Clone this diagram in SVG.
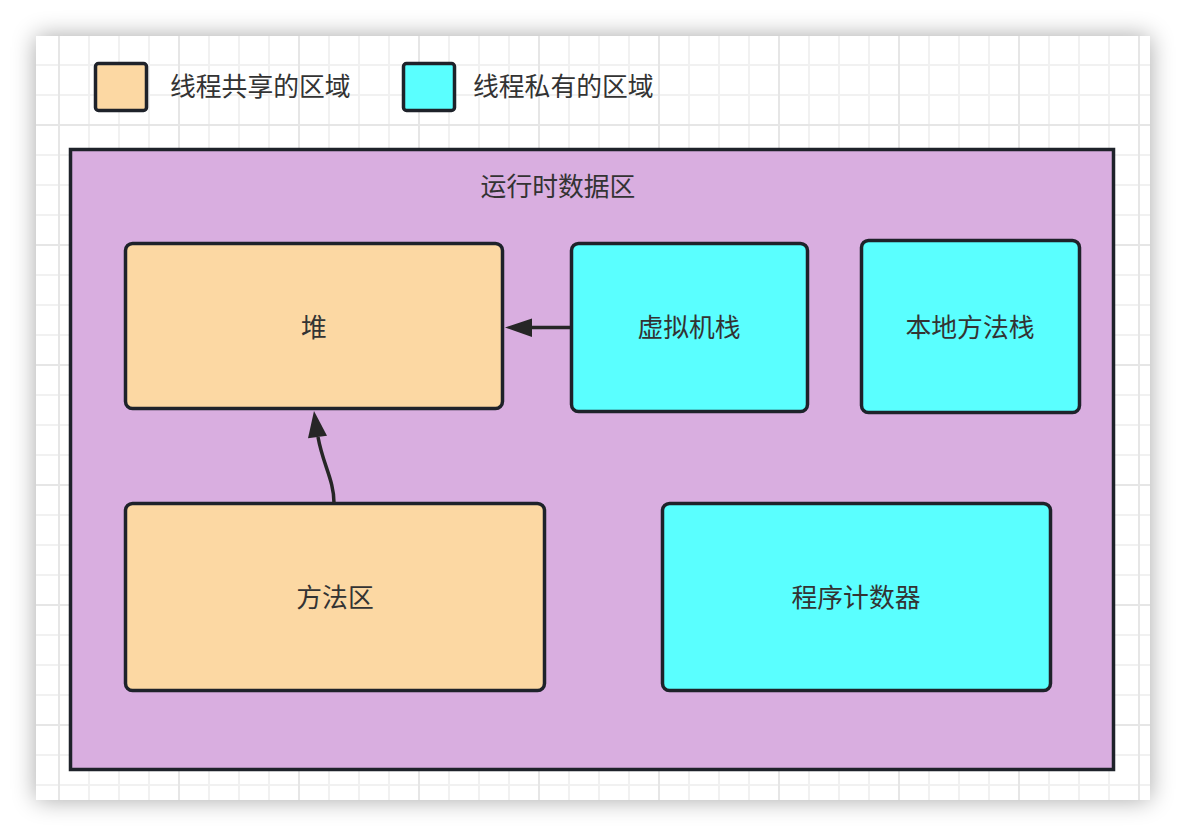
<svg xmlns="http://www.w3.org/2000/svg" width="1186" height="836" viewBox="0 0 1186 836">
  <style>
    .lbl { font-family: "Noto Sans CJK SC", "Noto Sans", sans-serif; font-size: 25.8px; fill: #333333; }
    .node { stroke: #1e222a; stroke-width: 3.5; }
    .shared { fill: #fcd8a3; }
    .private { fill: #5affff; }
    .conn { fill: none; stroke: #262626; stroke-width: 3.5; }
    .head { fill: #262626; }
  </style>
  <defs>
    <filter id="shadow" x="-10%" y="-10%" width="120%" height="120%">
      <feGaussianBlur in="SourceAlpha" stdDeviation="12"/>
      <feComponentTransfer><feFuncA type="linear" slope="0.35"/></feComponentTransfer>
      <feMerge><feMergeNode/><feMergeNode in="SourceGraphic"/></feMerge>
    </filter>
    <pattern id="grid" patternUnits="userSpaceOnUse" x="58" y="4" width="120" height="120">
      <rect x="30" y="0" width="2" height="120" fill="#f1f1f1"/>
      <rect x="60" y="0" width="2" height="120" fill="#f1f1f1"/>
      <rect x="90" y="0" width="2" height="120" fill="#f1f1f1"/>
      <rect x="0" y="30" width="120" height="2" fill="#f1f1f1"/>
      <rect x="0" y="60" width="120" height="2" fill="#f1f1f1"/>
      <rect x="0" y="90" width="120" height="2" fill="#f1f1f1"/>
      <rect x="0" y="0" width="2" height="120" fill="#e6e6e6"/>
      <rect x="0" y="0" width="120" height="2" fill="#e6e6e6"/>
    </pattern>
  </defs>

  <rect x="0" y="0" width="1186" height="836" fill="#ffffff"/>
  <rect x="36" y="36" width="1114" height="764" fill="#ffffff" filter="url(#shadow)"/>
  <rect x="36" y="36" width="1114" height="764" fill="url(#grid)"/>

  <g id="legend-shared">
    <rect class="node shared" x="95.5" y="63.5" width="51" height="47" rx="3"/>
    <text class="lbl" x="170" y="96">线程共享的区域</text>
  </g>
  <g id="legend-private">
    <rect class="node private" x="403.5" y="63.5" width="51" height="47" rx="3"/>
    <text class="lbl" x="473" y="96">线程私有的区域</text>
  </g>

  <g id="runtime-data-area">
    <rect class="node" x="70.5" y="149.5" width="1043" height="620" fill="#d9aee0"/>
    <text class="lbl" x="558" y="196" text-anchor="middle">运行时数据区</text>
  </g>

  <g id="heap">
    <rect class="node shared" x="125.5" y="243.5" width="377" height="165" rx="7"/>
    <text class="lbl" x="314" y="337" text-anchor="middle">堆</text>
  </g>
  <g id="vm-stack">
    <rect class="node private" x="571.5" y="243.5" width="236" height="168" rx="7"/>
    <text class="lbl" x="689" y="337" text-anchor="middle">虚拟机栈</text>
  </g>
  <g id="native-stack">
    <rect class="node private" x="861.5" y="240.5" width="218" height="172" rx="7"/>
    <text class="lbl" x="970" y="337" text-anchor="middle">本地方法栈</text>
  </g>
  <g id="method-area">
    <rect class="node shared" x="125.5" y="503.5" width="419" height="187" rx="7"/>
    <text class="lbl" x="335" y="607" text-anchor="middle">方法区</text>
  </g>
  <g id="pc-register">
    <rect class="node private" x="662.5" y="503.5" width="388" height="187" rx="7"/>
    <text class="lbl" x="856" y="607" text-anchor="middle">程序计数器</text>
  </g>

  <g id="connectors">
    <line class="conn" x1="570" y1="327.5" x2="530" y2="327.5"/>
    <polygon class="head" points="505,327.5 532,318.5 532,337"/>
    <path class="conn" d="M334,503 C334,480 323,465 318,437"/>
    <polygon class="head" points="314,411 308,438.3 327,435.7"/>
  </g>
</svg>
